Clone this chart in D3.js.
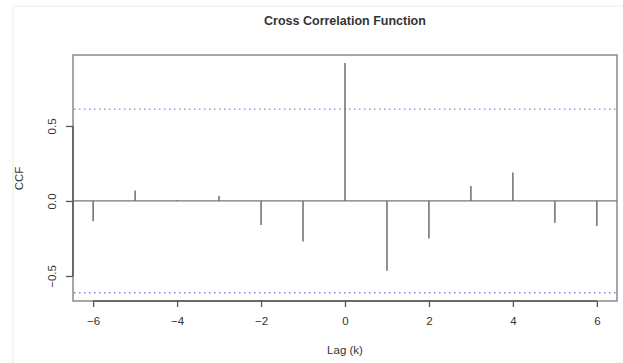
<!DOCTYPE html>
<html>
<head>
<meta charset="utf-8">
<script src="https://cdn.jsdelivr.net/npm/d3@7"></script>
<style>
  body { margin: 0; background: #fff; }
  text { font-family: "Liberation Sans", Arial, sans-serif; fill: #333; }
</style>
</head>
<body>
<svg id="chart" width="623" height="363"></svg>
<script>
// lags and cross-correlation values
const lags = [-6, -5, -4, -3, -2, -1, 0, 1, 2, 3, 4, 5, 6];
const ccf = [-0.135, 0.07, 0.005, 0.033, -0.16, -0.27, 0.92, -0.465, -0.25, 0.1, 0.19, -0.145, -0.167];
const ciLimit = 0.612;
const xTicks = [-6, -4, -2, 0, 2, 4, 6];
const yTicks = [-0.5, 0.0, 0.5];

const width = 623;
const height = 363;
const margin = { top: 55, right: 6, bottom: 62, left: 73 };

const svg = d3.select('#chart');

// faint outer frame of the screenshot
svg.append('path')
  .attr('d', `M13,${height}V6H${width}`)
  .attr('fill', 'none')
  .attr('stroke', '#ececec')
  .attr('stroke-width', 1);

const x = d3.scaleLinear()
  .domain([-6.48, 6.48])
  .range([margin.left, width - margin.right]);

const y = d3.scaleLinear()
  .domain([-0.667, 0.973])
  .range([height - margin.bottom, margin.top]);

// plot box
svg.append('rect')
  .attr('x', margin.left)
  .attr('y', margin.top)
  .attr('width', width - margin.left - margin.right)
  .attr('height', height - margin.top - margin.bottom)
  .attr('fill', 'none')
  .attr('stroke', '#8a8a8a')
  .attr('stroke-width', 1.5);

// axes
const xAxis = svg.append('g')
  .attr('transform', `translate(0,${height - margin.bottom})`)
  .call(d3.axisBottom(x).tickValues(xTicks).tickSize(6).tickPadding(10)
    .tickFormat((d) => d3.format('d')(d).replace('-', '\u2212')));

const yAxis = svg.append('g')
  .attr('transform', `translate(${margin.left},0)`)
  .call(d3.axisLeft(y).tickValues(yTicks).tickSize(7).tickFormat((d) => d3.format('.1f')(d).replace('-', '\u2212')));

[xAxis, yAxis].forEach((g) => {
  g.select('.domain').remove();
  g.selectAll('line').attr('stroke', '#555').attr('stroke-width', 1.3);
  g.selectAll('text').attr('font-size', 11.5).attr('fill', '#333');
});

// axis lines span first to last tick, like base R
svg.append('line')
  .attr('x1', x(xTicks[0])).attr('x2', x(xTicks[xTicks.length - 1]))
  .attr('y1', height - margin.bottom).attr('y2', height - margin.bottom)
  .attr('stroke', '#555').attr('stroke-width', 1.5);
svg.append('line')
  .attr('x1', margin.left).attr('x2', margin.left)
  .attr('y1', y(yTicks[0])).attr('y2', y(yTicks[yTicks.length - 1]))
  .attr('stroke', '#555').attr('stroke-width', 1.5);

// rotate y labels parallel to axis
yAxis.selectAll('.tick text')
  .attr('x', null)
  .attr('text-anchor', 'middle')
  .attr('transform', 'translate(-21,0) rotate(-90)')
  .attr('dy', '0.35em');

// zero line
svg.append('line')
  .attr('x1', margin.left).attr('x2', width - margin.right)
  .attr('y1', y(0)).attr('y2', y(0))
  .attr('stroke', '#777').attr('stroke-width', 1.3);

// confidence limits
svg.append('g')
  .selectAll('line')
  .data([ciLimit, -ciLimit])
  .join('line')
  .attr('x1', margin.left + 1).attr('x2', width - margin.right - 1)
  .attr('y1', (d) => y(d)).attr('y2', (d) => y(d))
  .attr('stroke', '#8484e8')
  .attr('stroke-width', 1.3)
  .attr('stroke-dasharray', '1.5,3.5');

// spikes
svg.append('g')
  .selectAll('line')
  .data(lags)
  .join('line')
  .attr('x1', (d) => x(d)).attr('x2', (d) => x(d))
  .attr('y1', y(0))
  .attr('y2', (d, i) => y(ccf[i]))
  .attr('stroke', '#6e6e6e')
  .attr('stroke-width', 1.5);

// titles
svg.append('text')
  .attr('x', (margin.left + width - margin.right) / 2)
  .attr('y', 25)
  .attr('text-anchor', 'middle')
  .attr('font-size', 12.5)
  .attr('font-weight', 'bold')
  .attr('fill', '#222')
  .text('Cross Correlation Function');

svg.append('text')
  .attr('x', (margin.left + width - margin.right) / 2)
  .attr('y', 354)
  .attr('text-anchor', 'middle')
  .attr('font-size', 11.5)
  .text('Lag (k)');

svg.append('text')
  .attr('transform', `translate(23,${y(0.15)}) rotate(-90)`)
  .attr('text-anchor', 'middle')
  .attr('font-size', 11.5)
  .text('CCF');
</script>
</body>
</html>
